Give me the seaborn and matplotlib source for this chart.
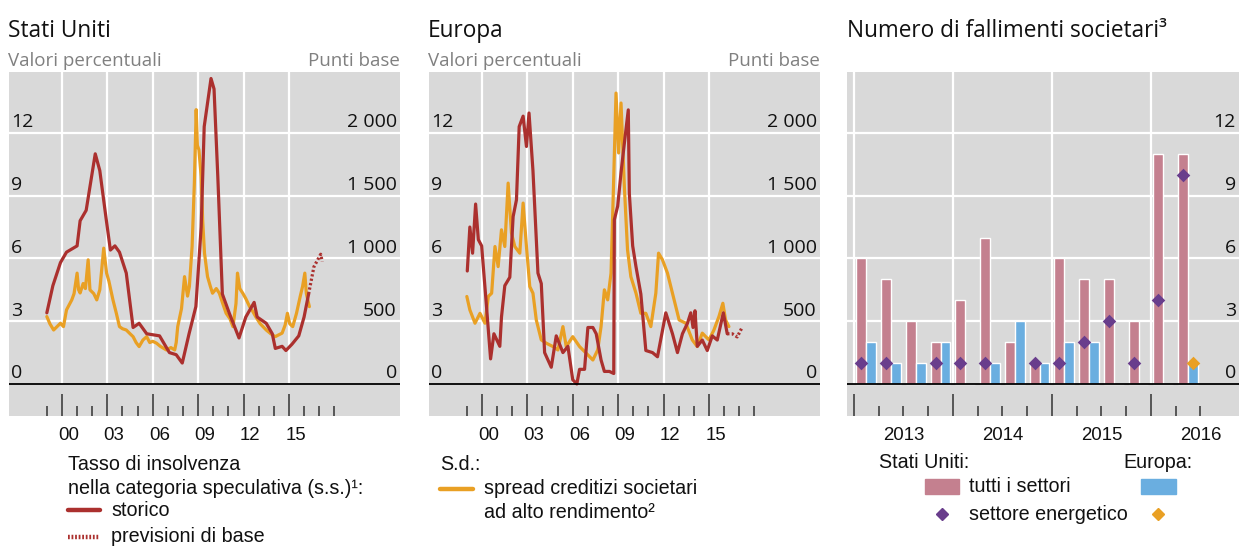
import numpy as np
import pandas as pd
import seaborn as sns
import matplotlib.pyplot as plt
from matplotlib.transforms import offset_copy, blended_transform_factory
from matplotlib.patches import Rectangle

# --- Stati Uniti: tasso di insolvenza (valori percentuali) ---
us_rate_x = [1999.0, 1999.4, 1999.9, 2000.3, 2001.0, 2001.2, 2001.6, 2002.2, 2002.5, 2002.9,
             2003.2, 2003.5, 2003.8, 2004.25, 2004.7, 2005.1, 2005.6, 2006.45, 2007.1, 2007.55,
             2007.95, 2008.4, 2008.85, 2009.2, 2009.4, 2009.85, 2010.05, 2010.3, 2010.6, 2011.05,
             2011.7, 2012.15, 2012.7, 2012.9, 2013.5, 2013.9, 2014.1, 2014.55, 2014.8, 2015.2,
             2015.65, 2016.0, 2016.3]
us_rate = [3.4, 4.7, 5.8, 6.3, 6.6, 7.8, 8.3, 11.0, 10.2, 8.0,
           6.4, 6.6, 6.3, 5.3, 2.7, 2.9, 2.4, 2.3, 1.5, 1.4,
           1.0, 2.4, 3.7, 7.5, 12.3, 14.6, 14.1, 9.9, 4.3, 3.4,
           2.2, 3.2, 3.9, 3.2, 2.9, 2.4, 1.7, 1.8, 1.6, 1.9,
           2.3, 3.2, 4.3]
us_fc_x = [2016.3, 2016.65, 2017.1, 2017.2]
us_fc = [4.3, 5.6, 6.2, 5.85]

# --- Stati Uniti: spread alto rendimento (punti base) ---
us_hy_x = [1999.0, 1999.2, 1999.45, 1999.7, 1999.9, 2000.1, 2000.3, 2000.65, 2000.8, 2001.0,
           2001.1, 2001.2, 2001.4, 2001.55, 2001.73, 2001.85, 2002.1, 2002.3, 2002.5, 2002.76,
           2002.95, 2003.1, 2003.37, 2003.6, 2003.8, 2004.0, 2004.25, 2004.5, 2004.7, 2004.9,
           2005.1, 2005.35, 2005.6, 2005.8, 2006.0, 2006.25, 2006.5, 2006.9, 2007.2, 2007.45,
           2007.55, 2007.65, 2007.9, 2008.1, 2008.3, 2008.42, 2008.6, 2008.75, 2008.87, 2008.95,
           2009.05, 2009.2, 2009.3, 2009.42, 2009.62, 2009.8, 2009.95, 2010.2, 2010.4, 2010.6,
           2010.85, 2011.1, 2011.3, 2011.5, 2011.6, 2011.75, 2011.95, 2012.15, 2012.4, 2012.6,
           2012.8, 2013.1, 2013.5, 2013.8, 2014.1, 2014.3, 2014.55, 2014.75, 2014.9, 2015.05,
           2015.25, 2015.5, 2015.75, 2015.9, 2016.05, 2016.15, 2016.35]
us_hy = [537, 480, 430, 460, 484, 457, 590, 670, 720, 883,
         750, 725, 800, 760, 989, 750, 720, 670, 750, 1082,
         883, 820, 670, 560, 457, 440, 430, 400, 377, 330,
         298, 350, 377, 330, 340, 325, 300, 271, 290, 271,
         330, 457, 600, 855, 700, 776, 1095, 1600, 2185, 1900,
         1866, 1653, 1300, 1042, 855, 780, 723, 760, 723, 650,
         563, 520, 457, 640, 883, 760, 723, 680, 616, 580,
         537, 480, 430, 400, 377, 390, 405, 470, 563, 480,
         457, 563, 700, 776, 883, 720, 616]

# --- Europa: tasso di insolvenza ---
eu_rate_x = [1999.03, 1999.2, 1999.38, 1999.58, 1999.76, 1999.98, 2000.3, 2000.57, 2000.79, 2001.18,
             2001.29, 2001.51, 2001.84, 2002.06, 2002.28, 2002.46, 2002.72, 2002.94, 2003.11, 2003.37,
             2003.7, 2003.92, 2004.14, 2004.58, 2004.91, 2005.35, 2005.68, 2006.0, 2006.27, 2006.45,
             2006.78, 2007.0, 2007.33, 2007.55, 2007.87, 2008.09, 2008.42, 2008.71, 2008.75, 2008.97,
             2009.19, 2009.41, 2009.67, 2009.74, 2009.96, 2010.18, 2010.5, 2010.83, 2011.27, 2011.6,
             2012.15, 2012.59, 2012.92, 2013.25, 2013.58, 2013.8, 2013.95, 2014.08, 2014.23, 2014.56,
             2014.89, 2015.22, 2015.55, 2015.95, 2016.21]
eu_rate = [5.4, 7.5, 6.25, 8.6, 6.9, 6.6, 3.7, 1.2, 2.4, 1.8,
           3.2, 4.7, 5.1, 8.0, 8.8, 12.3, 12.8, 11.35, 12.95, 10.2,
           5.3, 4.8, 1.5, 0.8, 2.3, 1.5, 1.8, 0.2, 0.0, 0.7,
           0.7, 2.7, 2.7, 2.4, 1.15, 0.6, 0.6, 0.5, 7.85, 8.5,
           10.1, 11.5, 13.1, 9.1, 6.6, 5.6, 4.3, 1.6, 1.5, 1.3,
           3.4, 2.4, 1.5, 2.4, 2.9, 3.4, 2.7, 3.5, 1.8, 2.1,
           1.6, 2.3, 2.1, 3.4, 2.4]
eu_fc_x = [2016.21, 2016.54, 2016.87, 2017.19]
eu_fc = [2.4, 2.4, 2.25, 2.7]

# --- Europa: spread alto rendimento ---
eu_hy_x = [1999.0, 1999.2, 1999.54, 1999.87, 2000.2, 2000.42, 2000.64, 2000.86, 2001.07, 2001.29,
           2001.51, 2001.73, 2001.95, 2002.17, 2002.5, 2002.72, 2002.94, 2003.16, 2003.37, 2003.59,
           2003.92, 2004.25, 2004.69, 2005.02, 2005.35, 2005.57, 2006.0, 2006.45, 2006.89, 2007.33,
           2007.65, 2007.87, 2008.09, 2008.31, 2008.53, 2008.71, 2008.86, 2009.03, 2009.19, 2009.41,
           2009.62, 2009.84, 2010.18, 2010.5, 2010.83, 2011.16, 2011.49, 2011.67, 2011.93, 2012.26,
           2012.59, 2013.03, 2013.47, 2013.9, 2014.23, 2014.56, 2015.0, 2015.33, 2015.66, 2015.92,
           2016.1, 2016.32]
eu_hy = [697, 590, 484, 563, 484, 697, 723, 1095, 935, 1228,
         1095, 1600, 1202, 1095, 1042, 1441, 1095, 776, 723, 510,
         351, 325, 298, 271, 457, 298, 377, 298, 245, 191,
         271, 457, 750, 670, 883, 1653, 2317, 1840, 2238, 1573,
         1069, 855, 723, 563, 563, 457, 723, 1042, 989, 883,
         723, 510, 484, 351, 298, 405, 351, 430, 537, 643,
         510, 457]

# --- Numero di fallimenti societari (trimestri 2013T1 - 2016T2) ---
quarters = ['2013T1', '2013T2', '2013T3', '2013T4', '2014T1', '2014T2', '2014T3',
            '2014T4', '2015T1', '2015T2', '2015T3', '2015T4', '2016T1', '2016T2']
us_all = [6, 5, 3, 2, 4, 7, 2, 1, 6, 5, 5, 3, 11, 11]
eu_all = [2, 1, 1, 2, 0, 1, 3, 1, 2, 2, 0, 0, 0, 1]
us_energy = [1, 1, np.nan, 1, 1, 1, np.nan, 1, 1, 2, 3, 1, 4, 10]
eu_energy = [np.nan] * 13 + [1]
years_bar = ['2013', '2014', '2015', '2016']

sns.set_theme(style='white')
plt.rcParams['font.family'] = ['Open Sans', 'DejaVu Sans']

GREY = '#d9d9d9'
RED = '#ab302e'
ORANGE = '#e9a024'
PINK = '#c4808f'
BLUE = '#6aaee0'
PURPLE = '#693d8c'
ARIAL = ['Liberation Sans', 'DejaVu Sans']
TICK = dict(family=ARIAL, fontsize=13.4, color='#111111')
LAB = dict(family=ARIAL, fontsize=14.2, color='#111111')

W, H = 1250, 546
fig = plt.figure(figsize=(12.5, 5.46), dpi=100)


def box(x0, y0, x1, y1):
    return [x0 / W, 1 - y1 / H, (x1 - x0) / W, (y1 - y0) / H]


YLIM = (-1.53, 14.91)
BP = 2000 / 12


def inner_labels(ax, vals, texts, right=False):
    tr = offset_copy(blended_transform_factory(ax.transAxes, ax.transData), fig=fig, y=5.5, units='dots')
    for v, t in zip(vals, texts):
        ax.text(0.992 if right else 0.006, v, t, transform=tr, ha='right' if right else 'left',
                va='baseline', fontsize=14, color='#111111')


def bottom_ticks(ax, major, minor):
    ax.set_xticks(major)
    ax.set_xticks(minor, minor=True)
    ax.tick_params(axis='x', which='major', direction='in', length=16, width=1.1, color='#333333',
                   labelbottom=False, bottom=True)
    ax.tick_params(axis='x', which='minor', direction='in', length=7.5, width=1.1, color='#333333',
                   bottom=True)


def line_panel(x0, rx, ry, fx, fy, hx, hy):
    ax = fig.add_axes(box(x0, 72, x0 + 391, 416))
    ax2 = ax.twinx()
    ax.set_zorder(2)
    ax.patch.set_visible(False)
    ax2.set_zorder(1)
    ax2.patch.set_visible(True)
    ax2.set_facecolor(GREY)
    ax.set_xlim(1996.5, 2022.34)
    ax.set_ylim(*YLIM)
    ax2.set_ylim(YLIM[0] * BP, YLIM[1] * BP)
    for v in [500, 1000, 1500, 2000]:
        ax2.axhline(v, color='white', lw=1.6, zorder=0)
    ax2.vlines(range(2000, 2016, 3), 0, YLIM[1] * BP, color='white', lw=1.6, zorder=0)

    sns.lineplot(x=hx, y=hy, ax=ax2, color=ORANGE, lw=2.3)
    sns.lineplot(x=rx, y=ry, ax=ax, color=RED, lw=2.3)
    ax.plot(fx, fy, color=RED, lw=2.3, linestyle=(0, (0.7, 0.7)))
    ax.axhline(0, color='black', lw=1.3)

    for a in (ax, ax2):
        for s in a.spines.values():
            s.set_visible(False)
        a.set_yticks([])
        a.set_ylabel('')
    bottom_ticks(ax, list(range(2000, 2016, 3)), list(range(1999, 2019)))
    tr = blended_transform_factory(ax.transData, ax.transAxes)
    for yr in range(2000, 2016, 3):
        ax.text(yr + 0.45, -0.057, f'{yr % 100:02d}', transform=tr, ha='center', va='center', **TICK)
    inner_labels(ax, [0, 3, 6, 9, 12], ['0', '3', '6', '9', '12'])
    inner_labels(ax2, [0, 500, 1000, 1500, 2000], ['0', '500', '1 000', '1 500', '2 000'], right=True)


line_panel(9, us_rate_x, us_rate, us_fc_x, us_fc, us_hy_x, us_hy)
line_panel(429, eu_rate_x, eu_rate, eu_fc_x, eu_fc, eu_hy_x, eu_hy)

# --- pannello a barre ---
ax = fig.add_axes(box(847, 72, 1239, 416))
ax.set_facecolor(GREY)
ax.set_xlim(-0.28, 15.56)
ax.set_ylim(*YLIM)
for v in [3, 6, 9, 12]:
    ax.axhline(v, color='white', lw=1.6, zorder=0)
ax.vlines([0, 4, 8, 12], 0, YLIM[1], color='white', lw=1.6, zorder=0)
q = np.arange(len(quarters))
ax.bar(q + 0.3, us_all, width=0.4, color=PINK, zorder=2)
ax.bar(q + 0.7, eu_all, width=0.4, color=BLUE, zorder=2)
sns.scatterplot(x=q + 0.3, y=us_energy, ax=ax, marker='D', s=48, color=PURPLE, linewidth=0, zorder=3)
sns.scatterplot(x=q + 0.7, y=eu_energy, ax=ax, marker='D', s=48, color=ORANGE, linewidth=0, zorder=3)
ax.axhline(0, color='black', lw=1.3, zorder=4)
for s in ax.spines.values():
    s.set_visible(False)
ax.set_yticks([])
bottom_ticks(ax, [0, 4, 8, 12], [1, 2, 3, 5, 6, 7, 9, 10, 11, 13, 14])
tr = blended_transform_factory(ax.transData, ax.transAxes)
for i, yl in enumerate(years_bar):
    ax.text(4 * i + 2, -0.057, yl, transform=tr, ha='center', va='center', **TICK)
inner_labels(ax, [0, 3, 6, 9, 12], ['0', '3', '6', '9', '12'], right=True)

# --- titoli e legende ---
ov = fig.add_axes([0, 0, 1, 1], zorder=5)
ov.set_xlim(0, W)
ov.set_ylim(H, 0)
ov.axis('off')
ov.patch.set_visible(False)

for x0, t in [(8, 'Stati Uniti'), (428, 'Europa'), (847, 'Numero di fallimenti societari³')]:
    ov.text(x0, 37, t, fontsize=16.3, va='baseline', color='#111111')
for x0 in (8, 428):
    ov.text(x0, 66, 'Valori percentuali', fontsize=13.5, va='baseline', color='#808080')
    ov.text(x0 + 392, 66, 'Punti base', fontsize=13.5, va='baseline', color='#808080', ha='right')

ov.text(68, 465, 'Tasso di insolvenza', va='center', **LAB)
ov.text(68, 488, 'nella categoria speculativa (s.s.)¹:', va='center', **LAB)
ov.plot([68, 100], [510, 510], color=RED, lw=3.2)
ov.text(111, 510, 'storico', va='center', **LAB)
ov.plot([68, 100], [537, 537], color=RED, lw=3.2, linestyle=(0, (0.4, 0.4)))
ov.text(111, 537, 'previsioni di base', va='center', **LAB)

ov.text(440, 465, 'S.d.:', va='center', **LAB)
ov.plot([440, 473], [489, 489], color=ORANGE, lw=3.2)
ov.text(484, 489, 'spread creditizi societari', va='center', **LAB)
ov.text(484, 512, 'ad alto rendimento²', va='center', **LAB)

ov.text(879, 462, 'Stati Uniti:', va='center', **LAB)
ov.text(1123, 462, 'Europa:', va='center', **LAB)
ov.add_patch(Rectangle((925, 479), 34, 15, color=PINK))
ov.text(969, 487, 'tutti i settori', va='center', **LAB)
ov.add_patch(Rectangle((1141, 479), 35, 15, color=BLUE))
ov.plot([942], [514], marker='D', ms=6.5, color=PURPLE, lw=0)
ov.text(969, 514, 'settore energetico', va='center', **LAB)
ov.plot([1158], [514], marker='D', ms=6.5, color=ORANGE, lw=0)

fig.savefig('out.png', dpi=100)
